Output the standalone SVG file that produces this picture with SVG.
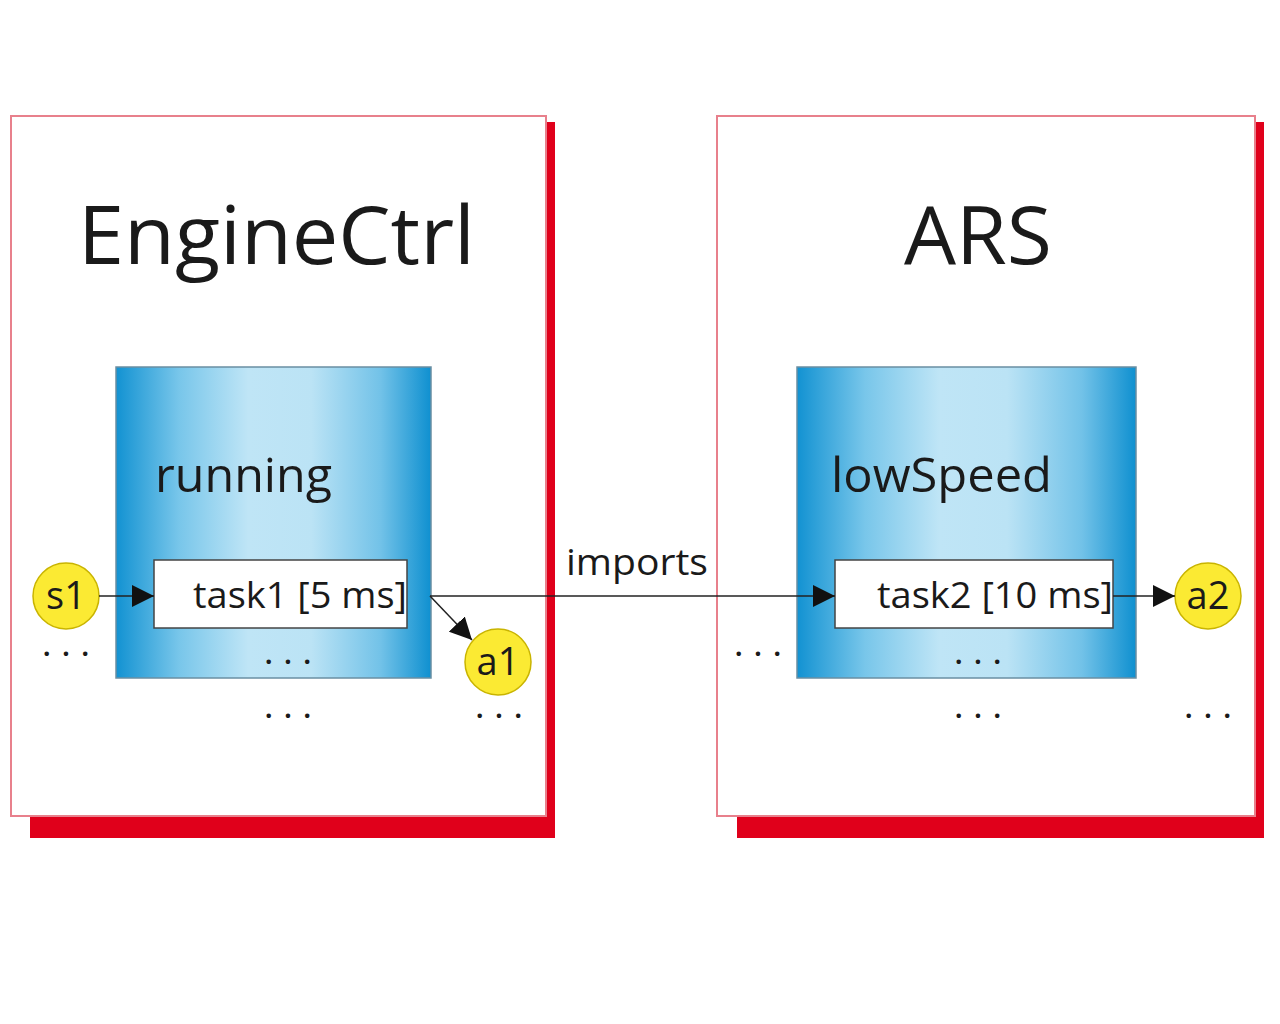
<svg xmlns="http://www.w3.org/2000/svg" width="1280" height="1024" viewBox="0 0 1280 1024">
<style>
.frame{fill:#fff;stroke:#e8808c;stroke-width:2}
.shadow{fill:#e0001b}
.state{fill:url(#blue);stroke:#6a8fa3;stroke-width:1.5}
.task{fill:#fff;stroke:#444;stroke-width:1.5}
.ev{fill:#fbea33;stroke:#c9b400;stroke-width:1.5}
.conn{stroke:#222;stroke-width:1.5;fill:none}
text{font-family:"Open Sans","Noto Sans","Liberation Sans",sans-serif;fill:#1a1a1a}
.title{font-size:80px}
.st{font-size:48px}
.tk{font-size:37px}
.ev-t{font-size:38px;text-anchor:middle}
.dots{font-size:26px;font-weight:bold}
</style>
<defs>
<linearGradient id="blue" x1="0" y1="0" x2="1" y2="0">
<stop offset="0" stop-color="#1292d2"/>
<stop offset="0.2" stop-color="#78c6ea"/>
<stop offset="0.42" stop-color="#bfe5f6"/>
<stop offset="0.62" stop-color="#bbe3f5"/>
<stop offset="0.84" stop-color="#72c2e8"/>
<stop offset="1" stop-color="#0f90d0"/>
</linearGradient>
<marker id="arrL" viewBox="0 0 10 10" refX="10" refY="5" markerWidth="22" markerHeight="22" markerUnits="userSpaceOnUse" orient="auto">
<path d="M0,0 L10,5 L0,10 z" fill="#111"/>
</marker>
</defs>
<rect width="1280" height="1024" fill="#fff"/>

<g id="EngineCtrl">
<rect class="shadow" x="30" y="122" width="525" height="716"/>
<rect class="frame" x="11" y="116" width="535" height="700"/>
<text class="title" x="78" y="264" textLength="397" lengthAdjust="spacingAndGlyphs">EngineCtrl</text>
</g>
<g id="ARS">
<rect class="shadow" x="737" y="122" width="527" height="716"/>
<rect class="frame" x="717" y="116" width="538" height="700"/>
<text class="title" x="904" y="264" textLength="148" lengthAdjust="spacingAndGlyphs">ARS</text>
</g>

<g id="running">
<rect class="state" x="116" y="367" width="315" height="311"/>
<text class="st" x="155" y="492" textLength="177" lengthAdjust="spacingAndGlyphs">running</text>
<text class="dots" x="265" y="664" textLength="46" lengthAdjust="spacing">. . .</text>
</g>
<g id="lowSpeed">
<rect class="state" x="797" y="367" width="339" height="311"/>
<text class="st" x="831" y="492" textLength="221" lengthAdjust="spacingAndGlyphs">lowSpeed</text>
<text class="dots" x="955" y="664" textLength="46" lengthAdjust="spacing">. . .</text>
</g>

<g id="task1">
<rect class="task" x="154" y="560" width="253" height="68"/>
<text class="tk" x="193" y="608" textLength="214" lengthAdjust="spacingAndGlyphs">task1 [5 ms]</text>
</g>
<g id="task2">
<rect class="task" x="835" y="560" width="278" height="68"/>
<text class="tk" x="877" y="608" textLength="236" lengthAdjust="spacingAndGlyphs">task2 [10 ms]</text>
</g>

<g id="s1">
<circle class="ev" cx="66" cy="596" r="33"/>
<text class="ev-t" x="66" y="609">s1</text>
</g>
<g id="a1">
<circle class="ev" cx="498" cy="662" r="33"/>
<text class="ev-t" x="498" y="675">a1</text>
</g>
<g id="a2">
<circle class="ev" cx="1208" cy="596" r="33"/>
<text class="ev-t" x="1208" y="609">a2</text>
</g>

<g id="dots">
<text class="dots" x="43" y="656" textLength="46" lengthAdjust="spacing">. . .</text>
<text class="dots" x="265" y="718" textLength="46" lengthAdjust="spacing">. . .</text>
<text class="dots" x="476" y="718" textLength="46" lengthAdjust="spacing">. . .</text>
<text class="dots" x="735" y="656" textLength="46" lengthAdjust="spacing">. . .</text>
<text class="dots" x="955" y="718" textLength="46" lengthAdjust="spacing">. . .</text>
<text class="dots" x="1185" y="718" textLength="46" lengthAdjust="spacing">. . .</text>
</g>

<g id="connectors">
<line class="conn" x1="99" y1="596" x2="154" y2="596" marker-end="url(#arrL)"/>
<line class="conn" x1="430" y1="596" x2="472" y2="640" marker-end="url(#arrL)"/>
<line class="conn" x1="430" y1="596" x2="835" y2="596" marker-end="url(#arrL)"/>
<line class="conn" x1="1113" y1="596" x2="1175" y2="596" marker-end="url(#arrL)"/>
<text class="tk" x="566" y="575" textLength="142" lengthAdjust="spacingAndGlyphs">imports</text>
</g>
</svg>
